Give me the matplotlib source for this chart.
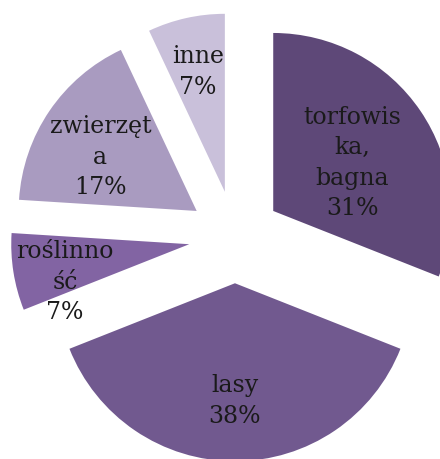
import numpy as np
import matplotlib.pyplot as plt

# shares of each source (percent), clockwise from 12 o'clock
categories = ['torfowis\nka,\nbagna', 'lasy', 'roślinno\nść', 'zwierzęt\na', 'inne']
values = [31, 38, 7, 17, 7]
colors = ['#5e4878', '#71598f', '#8264a3', '#a99bc0', '#c9c0da']

# where each label sits: distance from the wedge tip (fraction of radius)
# and a small rotation (degrees) away from the wedge's middle
label_dist = [0.52, 0.66, 0.73, 0.62, 0.69]
label_turn = [-3, 0, 8, 5, 0]


def main():
    fig = plt.figure(figsize=(4.40, 4.59), dpi=100)
    ax = fig.add_axes([0, 0, 1, 1])

    wedges, _ = ax.pie(values, colors=colors, startangle=90, counterclock=False,
                       explode=[0.26] * len(values), radius=1.0,
                       wedgeprops=dict(linewidth=0))

    for w, name, v, d, t in zip(wedges, categories, values, label_dist, label_turn):
        mid = np.deg2rad((w.theta1 + w.theta2) / 2 + t)
        cx, cy = w.center
        x = cx + d * w.r * np.cos(mid)
        y = cy + d * w.r * np.sin(mid)
        ax.text(x, y, f'{name}\n{v}%', ha='center', va='center',
                fontsize=17, family='DejaVu Serif', color='#1a1a1a',
                linespacing=1.42)

    ax.set_xlim(-1.32, 1.152)
    ax.set_ylim(-1.247, 1.331)
    ax.set_aspect('equal')
    ax.axis('off')

    fig.savefig('out.png', dpi=100)


if __name__ == "__main__":
    main()
